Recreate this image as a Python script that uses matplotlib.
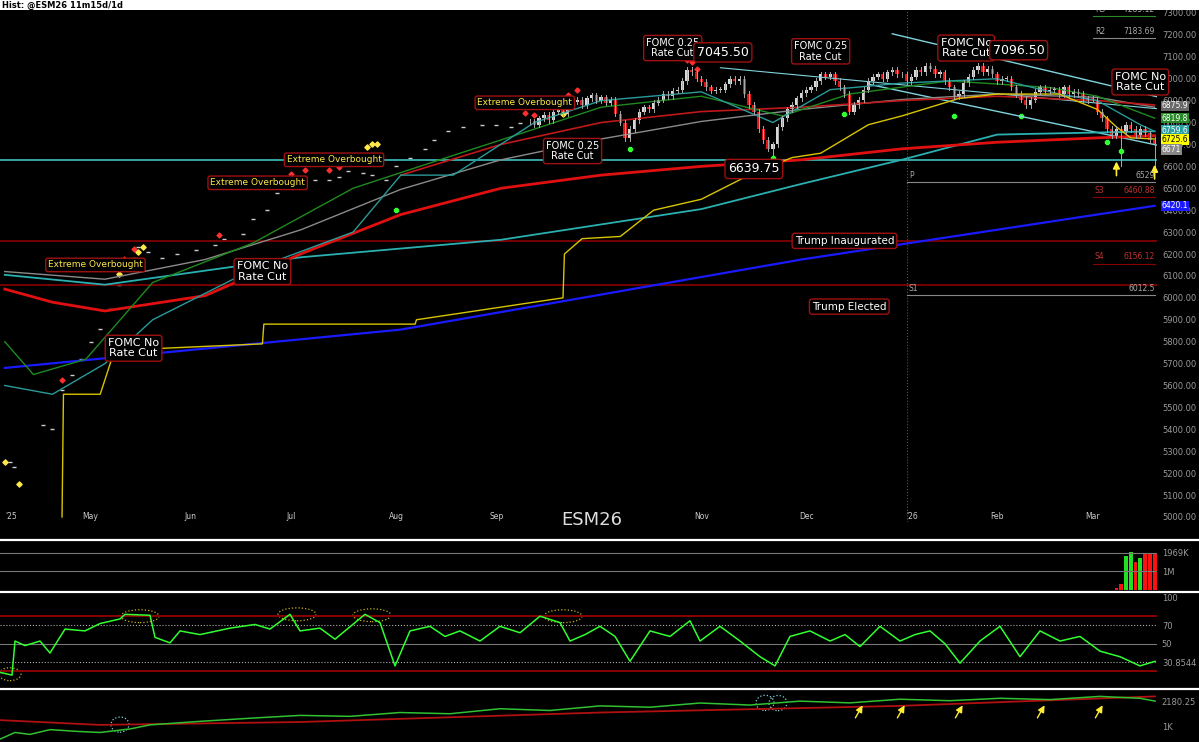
import numpy as np
import matplotlib
matplotlib.use("Agg")
import matplotlib.pyplot as plt
from matplotlib.patches import Rectangle, Ellipse

# ---- data -------------------------------------------------------
first_day = 110
closes = [
    6805, 6790, 6820, 6835, 6810, 6850, 6865, 6840, 6880, 6895,
    6905, 6880, 6910, 6925, 6900, 6915, 6890, 6905, 6840, 6800,
    6730, 6770, 6810, 6850, 6870, 6860, 6890, 6905, 6930, 6920,
    6945, 6950, 6990, 7040, 7030, 7000, 6985, 6960, 6945, 6950,
    6950, 6975, 7000, 6990, 7000, 6930, 6880, 6850, 6770, 6720,
    6680, 6700, 6780, 6820, 6860, 6880, 6910, 6935, 6950, 6960,
    6990, 7020, 7010, 7020, 6990, 6960, 6930, 6850, 6880, 6905,
    6950, 6990, 7010, 7020, 7000, 7030, 7040, 7020, 7020, 6990,
    7010, 7040, 7030, 7060, 7045, 7020, 7030, 6990, 6960, 6920,
    6930, 6980, 7010, 7040, 7060, 7030, 7045, 7020, 6990, 7000,
    7000, 6960, 6930, 6905, 6880, 6905, 6940, 6960, 6940, 6950,
    6950, 6930, 6960, 6930, 6940, 6930, 6900, 6910, 6905, 6850,
    6820, 6770, 6740, 6770, 6760, 6790, 6770, 6740, 6770, 6750,
    6720, 6700,
]
low_days = [161, 234, 241]
low_vals = [6639.75, 6600, 6590]

dash_days = [1, 2, 3, 8, 10, 12, 14, 16, 18, 20, 22, 24, 25, 27, 28, 30, 33, 36, 40, 44,
             46, 50, 52, 55, 57, 60, 62, 65, 68, 70, 72, 75, 77, 80, 82, 85, 88, 90, 93, 96,
             100, 103, 106, 108]
dash_px = [5250, 5230, 5150, 5420, 5400, 5580, 5650, 5720, 5800, 5860, 5950, 6060, 6130, 6180,
           6230, 6210, 6180, 6200, 6220, 6240, 6270, 6290, 6360, 6400, 6480, 6520, 6540, 6540,
           6540, 6550, 6580, 6570, 6560, 6540, 6600, 6640, 6680, 6720, 6760, 6780, 6790, 6790,
           6780, 6800]

# indicator lines: anchor days and values
ma_teal_d = [0, 10, 21, 31, 52, 73, 83, 94, 111, 125, 146, 161, 173, 188, 208, 221, 229, 238, 241]
ma_teal_v = [5600, 5560, 5700, 5900, 6130, 6300, 6560, 6560, 6800, 6900, 6940, 6800, 6950, 6980, 7000, 6930, 6900, 6790, 6760]
ma_green_d = [0, 6, 17, 31, 52, 73, 94, 111, 125, 146, 163, 177, 198, 219, 229, 241]
ma_green_v = [5800, 5650, 5720, 6070, 6250, 6500, 6650, 6770, 6870, 6920, 6830, 6930, 6990, 6960, 6920, 6820]
ma_gray_d = [0, 21, 42, 62, 83, 104, 125, 146, 167, 188, 208, 229, 241]
ma_gray_v = [6120, 6085, 6175, 6310, 6495, 6630, 6725, 6805, 6860, 6905, 6930, 6915, 6870]
ma_red_d = [0, 10, 21, 42, 62, 83, 104, 125, 146, 167, 188, 208, 229, 241]
ma_red_v = [6040, 5980, 5940, 6010, 6200, 6380, 6500, 6560, 6600, 6630, 6680, 6710, 6730, 6740]
ma_red2_d = [83, 104, 125, 146, 167, 188, 208, 229, 241]
ma_red2_v = [6560, 6700, 6800, 6850, 6870, 6900, 6920, 6900, 6880]
ma_cyan_d = [0, 21, 62, 104, 146, 167, 188, 208, 241]
ma_cyan_v = [6105, 6060, 6185, 6265, 6405, 6520, 6630, 6745, 6760]
ma_blue_d = [0, 83, 167, 241]
ma_blue_v = [5680, 5855, 6175, 6420]
vwap_d = [12, 12.3, 20, 23, 54, 54.3, 86, 86.3, 117, 117.3, 121, 129, 136, 146, 156, 165, 171, 181, 188, 200, 208, 221, 229, 233, 236, 241]
vwap_v = [5000, 5560, 5560, 5760, 5790, 5880, 5880, 5900, 6000, 6200, 6270, 6280, 6400, 6450, 6560, 6640, 6660, 6790, 6830, 6910, 6930, 6930, 6860, 6780, 6730, 6725]

hlines = [(6630, "#3fbfbf"), (6260, "#8b0000"), (6060, "#8b0000")]

vol_days = [233, 234, 235, 236, 237, 238, 239, 240, 241]
vol_k = [100, 300, 1800, 2000, 1500, 1700, 1900, 1950, 1969]
vol_up = [False, False, True, True, False, True, False, False, False]

rsi_x = [0, 12, 15, 25, 40, 50, 65, 85, 100, 120, 125, 150, 155, 170, 180, 200, 230, 255, 270,
         290, 300, 320, 335, 345, 365, 380, 395, 410, 430, 445, 460, 480, 500, 520, 540, 560,
         570, 585, 600, 615, 630, 650, 670, 690, 700, 720, 740, 760, 775, 790, 810, 830, 845,
         860, 880, 900, 915, 930, 945, 960, 980, 1000, 1020, 1040, 1060, 1080, 1100, 1120,
         1140, 1155]
rsi_v = [19, 16, 53, 48, 53, 40, 66, 64, 72, 77, 82, 81, 57, 51, 64, 60, 67, 71, 66, 82, 64,
         67, 55, 64, 82, 73, 26, 64, 69, 58, 64, 53, 69, 62, 80, 73, 53, 60, 69, 58, 31, 64,
         58, 75, 53, 69, 53, 36, 26, 58, 64, 53, 60, 47, 69, 53, 60, 64, 50, 29, 53, 69, 36,
         64, 53, 58, 42, 36, 26, 31]

mom_x = [0, 15, 30, 50, 80, 100, 130, 150, 200, 250, 300, 350, 400, 450, 500, 550, 600, 650,
         700, 750, 800, 850, 900, 950, 1000, 1050, 1100, 1140, 1155]
mom_green = [432, 738, 650, 869, 780, 738, 900, 1087, 1250, 1393, 1524, 1480, 1656, 1600, 1830,
             1750, 1961, 1900, 2093, 2000, 2180, 2100, 2267, 2200, 2311, 2250, 2398, 2311, 2180]
mom_red_x = [0, 100, 300, 600, 900, 1155]
mom_red = [1306, 1087, 1219, 1656, 1961, 2398]

months = ["'25", "May", "Jun", "Jul", "Aug", "Sep", "Nov", "Dec", "'26", "Feb", "Mar"]
month_days = [0, 18, 39, 60, 82, 103, 146, 168, 189, 208, 228]

# ---- layout --------------------------------------------------------
W, H = 1199, 742


def frame(top, bottom, left=0, right=1157):
    return [left / W, 1 - bottom / H, (right - left) / W, (bottom - top) / H]


plt.rcParams["font.family"] = "DejaVu Sans"
fig = plt.figure(figsize=(W / 100, H / 100), dpi=100, facecolor="black")

# title strip
fig.patches.append(Rectangle((0, 1 - 10 / H), 1, 10 / H, transform=fig.transFigure,
                             facecolor="white", edgecolor="none"))
fig.text(2 / W, 1 - 5 / H, "Hist: @ESM26 11m15d/1d", fontsize=6, color="black",
         va="center", ha="left", weight="bold")

ax = fig.add_axes(frame(11, 522))
ax.set_facecolor("black")
ax.set_xlim(-1, 241.5)
ax.set_ylim(4977, 7309)
for s in ax.spines.values():
    s.set_visible(False)
ax.set_xticks([])
ax.yaxis.tick_right()
ax.set_yticks(np.arange(5000, 7301, 100))
ax.set_yticklabels([f"{v:.2f}" for v in np.arange(5000, 7301, 100)])
ax.tick_params(axis="y", colors="#9a9a9a", labelsize=6, length=0, pad=4)

for lvl, c in hlines:
    ax.axhline(lvl, color=c, lw=1.2)
ax.axvline(189, color="#555555", lw=0.8, ls=":")

# channel lines
ax.plot([186, 243], [7205, 6910], color="#7fd4dd", lw=1)
ax.plot([181, 243], [6975, 6690], color="#7fd4dd", lw=1)
ax.plot([150, 243], [7050, 6860], color="#7fd4dd", lw=0.8)

ax.plot(ma_blue_d, ma_blue_v, color="#1a1aff", lw=1.6)
ax.plot(ma_cyan_d, ma_cyan_v, color="#2ab0b0", lw=1.3)
ax.plot(ma_gray_d, ma_gray_v, color="#8a8a8a", lw=1)
ax.plot(ma_red_d, ma_red_v, color="#e01010", lw=2)
ax.plot(ma_red2_d, ma_red2_v, color="#c01818", lw=1.2)
ax.plot(ma_green_d, ma_green_v, color="#1e8a1e", lw=1)
ax.plot(ma_teal_d, ma_teal_v, color="#2a9a9a", lw=1)
ax.plot(vwap_d, vwap_v, color="#d8c400", lw=1)

# early dashes
ax.scatter(dash_days, dash_px, marker="_", s=12, color="#cccccc", lw=1)

# candles
prev = closes[0]
for i, c in enumerate(closes):
    d = first_day + i
    o = prev
    up = c >= o
    lo, hi = min(o, c), max(o, c)
    ax.plot([d, d], [lo - 12, hi + 12], color="#aaaaaa", lw=0.7)
    ax.add_patch(Rectangle((d - 0.35, lo), 0.7, max(hi - lo, 3),
                           facecolor="#d8d8d8" if up else "#e01515",
                           edgecolor="none"))
    prev = c
for d, lv in zip(low_days, low_vals):
    ax.plot([d, d], [lv, closes[d - first_day]], color="#aaaaaa", lw=0.7)

# signal markers
red_marks_d = [12, 25, 27, 45, 57, 60, 63, 68, 70, 72, 109, 111, 113, 115, 118, 120, 143, 144, 145]
for d in red_marks_d:
    if d >= first_day:
        y = closes[d - first_day] + 45
    else:
        y = dash_px[dash_days.index(min(dash_days, key=lambda k: abs(k - d)))] + 45
    ax.scatter(d, y, marker="D", s=6, color="#ff3030")
yellow_marks = [(0, 5250), (3, 5150), (24, 6110), (26, 6170), (28, 6210), (29, 6230),
                (76, 6690), (77, 6700), (78, 6700), (117, 6840)]
for d, v in yellow_marks:
    ax.scatter(d, v, marker="D", s=7, color="#ffe84a")
green_marks = [(82, 6400), (131, 6680), (161, 6640), (176, 6840), (199, 6830), (213, 6830), (231, 6710), (234, 6670)]
for d, v in green_marks:
    ax.scatter(d, v, marker="P", s=10, color="#30ff30")

# arrows
for d, v in [(161, 6560), (233, 6545), (241, 6530)]:
    ax.annotate("", xy=(d, v + 90), xytext=(d, v), arrowprops=dict(arrowstyle="-|>", color="#ffee33", lw=1.2))

# pivot levels
piv = [("R3", 7285.125, "#2a8a2a", 228), ("R2", 7183.6875, "#888888", 228), ("S3", 6460.875, "#8b0000", 228),
       ("S4", 6156.125, "#8b0000", 228), ("P", 6529, "#888888", 189), ("S1", 6012.5, "#888888", 189)]
for name, v, c, d0 in piv:
    ax.plot([d0, 241], [v, v], color=c, lw=0.8)
    tc = "#c03030" if c == "#8b0000" else "#aaaaaa"
    ax.text(d0 + 0.5, v + 10, name, color=tc, fontsize=5.5, va="bottom")
    ax.text(241, v + 10, f"{v:g}", color=tc, fontsize=5.5, va="bottom", ha="right")

# boxed notes
box_r = dict(boxstyle="round,pad=0.25", facecolor="black", edgecolor="#a01010", lw=1)
notes = [
    (140, 7140, "FOMC 0.25\nRate Cut", 7), (171, 7125, "FOMC 0.25\nRate Cut", 7),
    (119, 6670, "FOMC 0.25\nRate Cut", 7), (201.5, 7140, "FOMC No\nRate Cut", 8),
    (238, 6985, "FOMC No\nRate Cut", 8), (54, 6120, "FOMC No\nRate Cut", 8),
    (27, 5770, "FOMC No\nRate Cut", 8), (176, 6260, "Trump Inaugurated", 7.5),
    (177, 5960, "Trump Elected", 7.5),
]
for d, v, t, fs in notes:
    ax.text(d, v, t, color="white", fontsize=fs, ha="center", va="center",
            linespacing=1.05, bbox=box_r)
for d, v, t in [(150.5, 7120, "7045.50"), (212.5, 7130, "7096.50"), (157, 6588, "6639.75")]:
    ax.text(d, v, t, color="white", fontsize=9, ha="center", va="center", bbox=box_r)
for d, v, t in [(109, 6890, "Extreme Overbought"), (69, 6630, "Extreme Overbought"),
                (53, 6525, "Extreme Overbought"), (19, 6150, "Extreme Overbought")]:
    ax.text(d, v, t, color="#ffe84a", fontsize=6.5, ha="center", va="center", bbox=box_r)

# month labels
for m, d in zip(months, month_days):
    ax.text(d, 5000, m, color="#cccccc", fontsize=5.5,
            ha="left" if m.startswith("'") else "center", va="center")
ax.text(123, 4985, "ESM26", color="#dddddd", fontsize=13, ha="center", va="center")

# right price tags
tags = [(6875.9, "#6a6a6a", "white"), (6819.8, "#2a8a2a", "white"), (6765.6, "#2aa0a0", "white"),
        (6722.6, "#ffff00", "black"), (6678, "#888888", "white"), (6420.1, "#1a1aff", "white")]
tag_txt = ["6875.9", "6819.8", "6759.6", "6725.6", "6671", "6420.1"]
for (v, bg, fg), t in zip(tags, tag_txt):
    ax.text(1.004, v, t, transform=ax.get_yaxis_transform(), fontsize=5.5, color=fg,
            va="center", ha="left", bbox=dict(boxstyle="square,pad=0.1", facecolor=bg, edgecolor="none"))

# panel separators
for yy in [540, 592, 689]:
    fig.add_artist(plt.Line2D([0, 1], [1 - yy / H, 1 - yy / H], color="white", lw=1.6))

# volume
axv = fig.add_axes(frame(543, 590))
axv.set_facecolor("black")
axv.set_xlim(-1, 241.5)
axv.set_ylim(0, 2500)
axv.bar(vol_days, vol_k, width=0.8, color=["#20e020" if u else "#ff1010" for u in vol_up])
axv.axhline(1000, color="#777777", lw=0.8)
axv.axhline(1969, color="#777777", lw=0.8)
for s in axv.spines.values():
    s.set_visible(False)
axv.set_xticks([])
axv.yaxis.tick_right()
axv.set_yticks([1000, 1969])
axv.set_yticklabels(["1M", "1969K"])
axv.tick_params(axis="y", colors="#9a9a9a", labelsize=6, length=0)

# rsi
axr = fig.add_axes(frame(595, 688))
axr.set_facecolor("black")
axr.set_xlim(0, 1157)
axr.set_ylim(2, 103)
axr.axhline(80, color="#8b0000", lw=1.4)
axr.axhline(20, color="#8b0000", lw=1.4)
axr.axhline(70, color="#aaaaaa", lw=0.8, ls=":")
axr.axhline(30, color="#aaaaaa", lw=0.8, ls=":")
axr.axhline(50, color="#777777", lw=0.8)
axr.plot(rsi_x, rsi_v, color="#30ff30", lw=1.1)
for cx, cy in [(10, 17), (140, 80), (297, 82), (372, 81), (563, 80)]:
    axr.add_patch(Ellipse((cx, cy), 38 if cx > 20 else 22, 14,
                          fill=False, ec="#c8b020", ls=":", lw=0.9))
for s in axr.spines.values():
    s.set_visible(False)
axr.set_xticks([])
axr.yaxis.tick_right()
axr.set_yticks([100, 70, 50, 30])
axr.set_yticklabels(["100", "70", "50", "30.8544"])
axr.tick_params(axis="y", colors="#9a9a9a", labelsize=6, length=0)

# bottom oscillator
axm = fig.add_axes(frame(692, 742))
axm.set_facecolor("black")
axm.set_xlim(0, 1157)
axm.set_ylim(300, 2600)
axm.plot(mom_red_x, mom_red, color="#b01010", lw=1.3)
axm.plot(mom_x, mom_green, color="#30c030", lw=1.1)
for cx, cy in [(120, 1100), (765, 2100), (778, 2090)]:
    axm.add_patch(Ellipse((cx, cy), 18, 700, fill=False, ec="#7fd4dd", ls=":", lw=0.9))
for cx in [858, 900, 958, 1040, 1098]:
    axm.annotate("", xy=(cx + 6, 2100), xytext=(cx - 4, 1300),
                 arrowprops=dict(arrowstyle="-|>", color="#ffee33", lw=1))
for s in axm.spines.values():
    s.set_visible(False)
axm.set_xticks([])
axm.yaxis.tick_right()
axm.set_yticks([1000, 2180])
axm.set_yticklabels(["1K", "2180.25"])
axm.tick_params(axis="y", colors="#9a9a9a", labelsize=6, length=0)

fig.savefig("out.png", dpi=100, facecolor="black")
